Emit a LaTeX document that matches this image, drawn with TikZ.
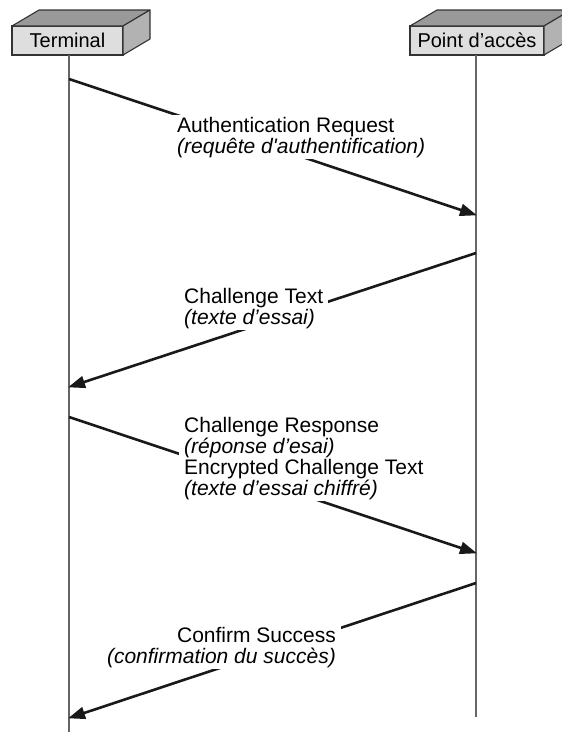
\documentclass[tikz,border=0pt]{standalone}
\usepackage{fontspec}
\setmainfont{Liberation Sans}
\usetikzlibrary{arrows.meta,positioning}

\begin{document}
\begin{tikzpicture}[x=1pt,y=-1pt]
   \useasboundingbox (0,0) rectangle (562,732);
   \clip (0,0) rectangle (562,732);
   \tikzstyle{front}=[draw=black!80, fill=black!13, line width=1.1pt, inner sep=0pt, outer sep=0pt, minimum height=29pt, font=\fontsize{20}{20}\selectfont]
   \tikzstyle{topface}=[draw=black!80, fill=black!40, line width=1.1pt, line join=round]
   \tikzstyle{sideface}=[draw=black!80, fill=black!30, line width=1.1pt, line join=round]
   \tikzstyle{life}=[draw=black!60, line width=1.6pt]
   \tikzstyle{msg}=[draw=black!90, line width=2.6pt, -{Triangle[length=17pt,width=12pt]}, shorten >=-1pt]
   \tikzstyle{lbl}=[fill=white, inner xsep=5pt, inner ysep=2pt, font=\fontsize{21}{21}\selectfont]
   % entities
   \node[front, minimum width=111pt] (term) at (67.5,40.5) {Terminal};
   \node[front, minimum width=134pt] (ap) at (477,40.5) {Point d’accès};
   \foreach \e in {term,ap} {
       \draw[topface] (\e.north west) -- ++(27,-16) -- ([shift={(27,-16)}]\e.north east) -- (\e.north east) -- cycle;
       \draw[sideface] (\e.north east) -- ++(27,-16) -- ++(0,29) -- (\e.south east) -- cycle;
   }
   % lifelines
   \coordinate (termend) at (69,732);
   \coordinate (apend) at (476,717);
   \path[life] (69,55) coordinate (termtop) -- (termend);
   \path[life] (476,55) coordinate (aptop) -- (apend);
   % messages
   \coordinate (t1) at (69,79);   \coordinate (a1) at (476,215);
   \coordinate (a2) at (476,253); \coordinate (t2) at (69,387);
   \coordinate (t3) at (69,417);  \coordinate (a3) at (476,553);
   \coordinate (a4) at (476,583); \coordinate (t4) at (69,718);
   \path[msg] (t1) -- (a1);
   \path[msg] (a2) -- (t2);
   \path[msg] (t3) -- (a3);
   \path[msg] (a4) -- (t4);
   \node[lbl, anchor=base west, align=left] (auth) at (172,153) {Authentication Request\\\textit{(requête d\textquotesingle authentification)}};
   \node[lbl, anchor=base west, align=left] (chal) at (179,324) {Challenge Text\\\textit{(texte d’essai)}};
   \node[lbl, anchor=base west, align=left] (resp) at (179,495) {Challenge Response\\\textit{(réponse d’esai)}\\Encrypted Challenge Text\\\textit{(texte d’essai chiffré)}};
   \node[lbl, anchor=base east, align=right] (conf) at (341,663) {Confirm Success\\\textit{(confirmation du succès)}};
\end{tikzpicture}
\end{document}
